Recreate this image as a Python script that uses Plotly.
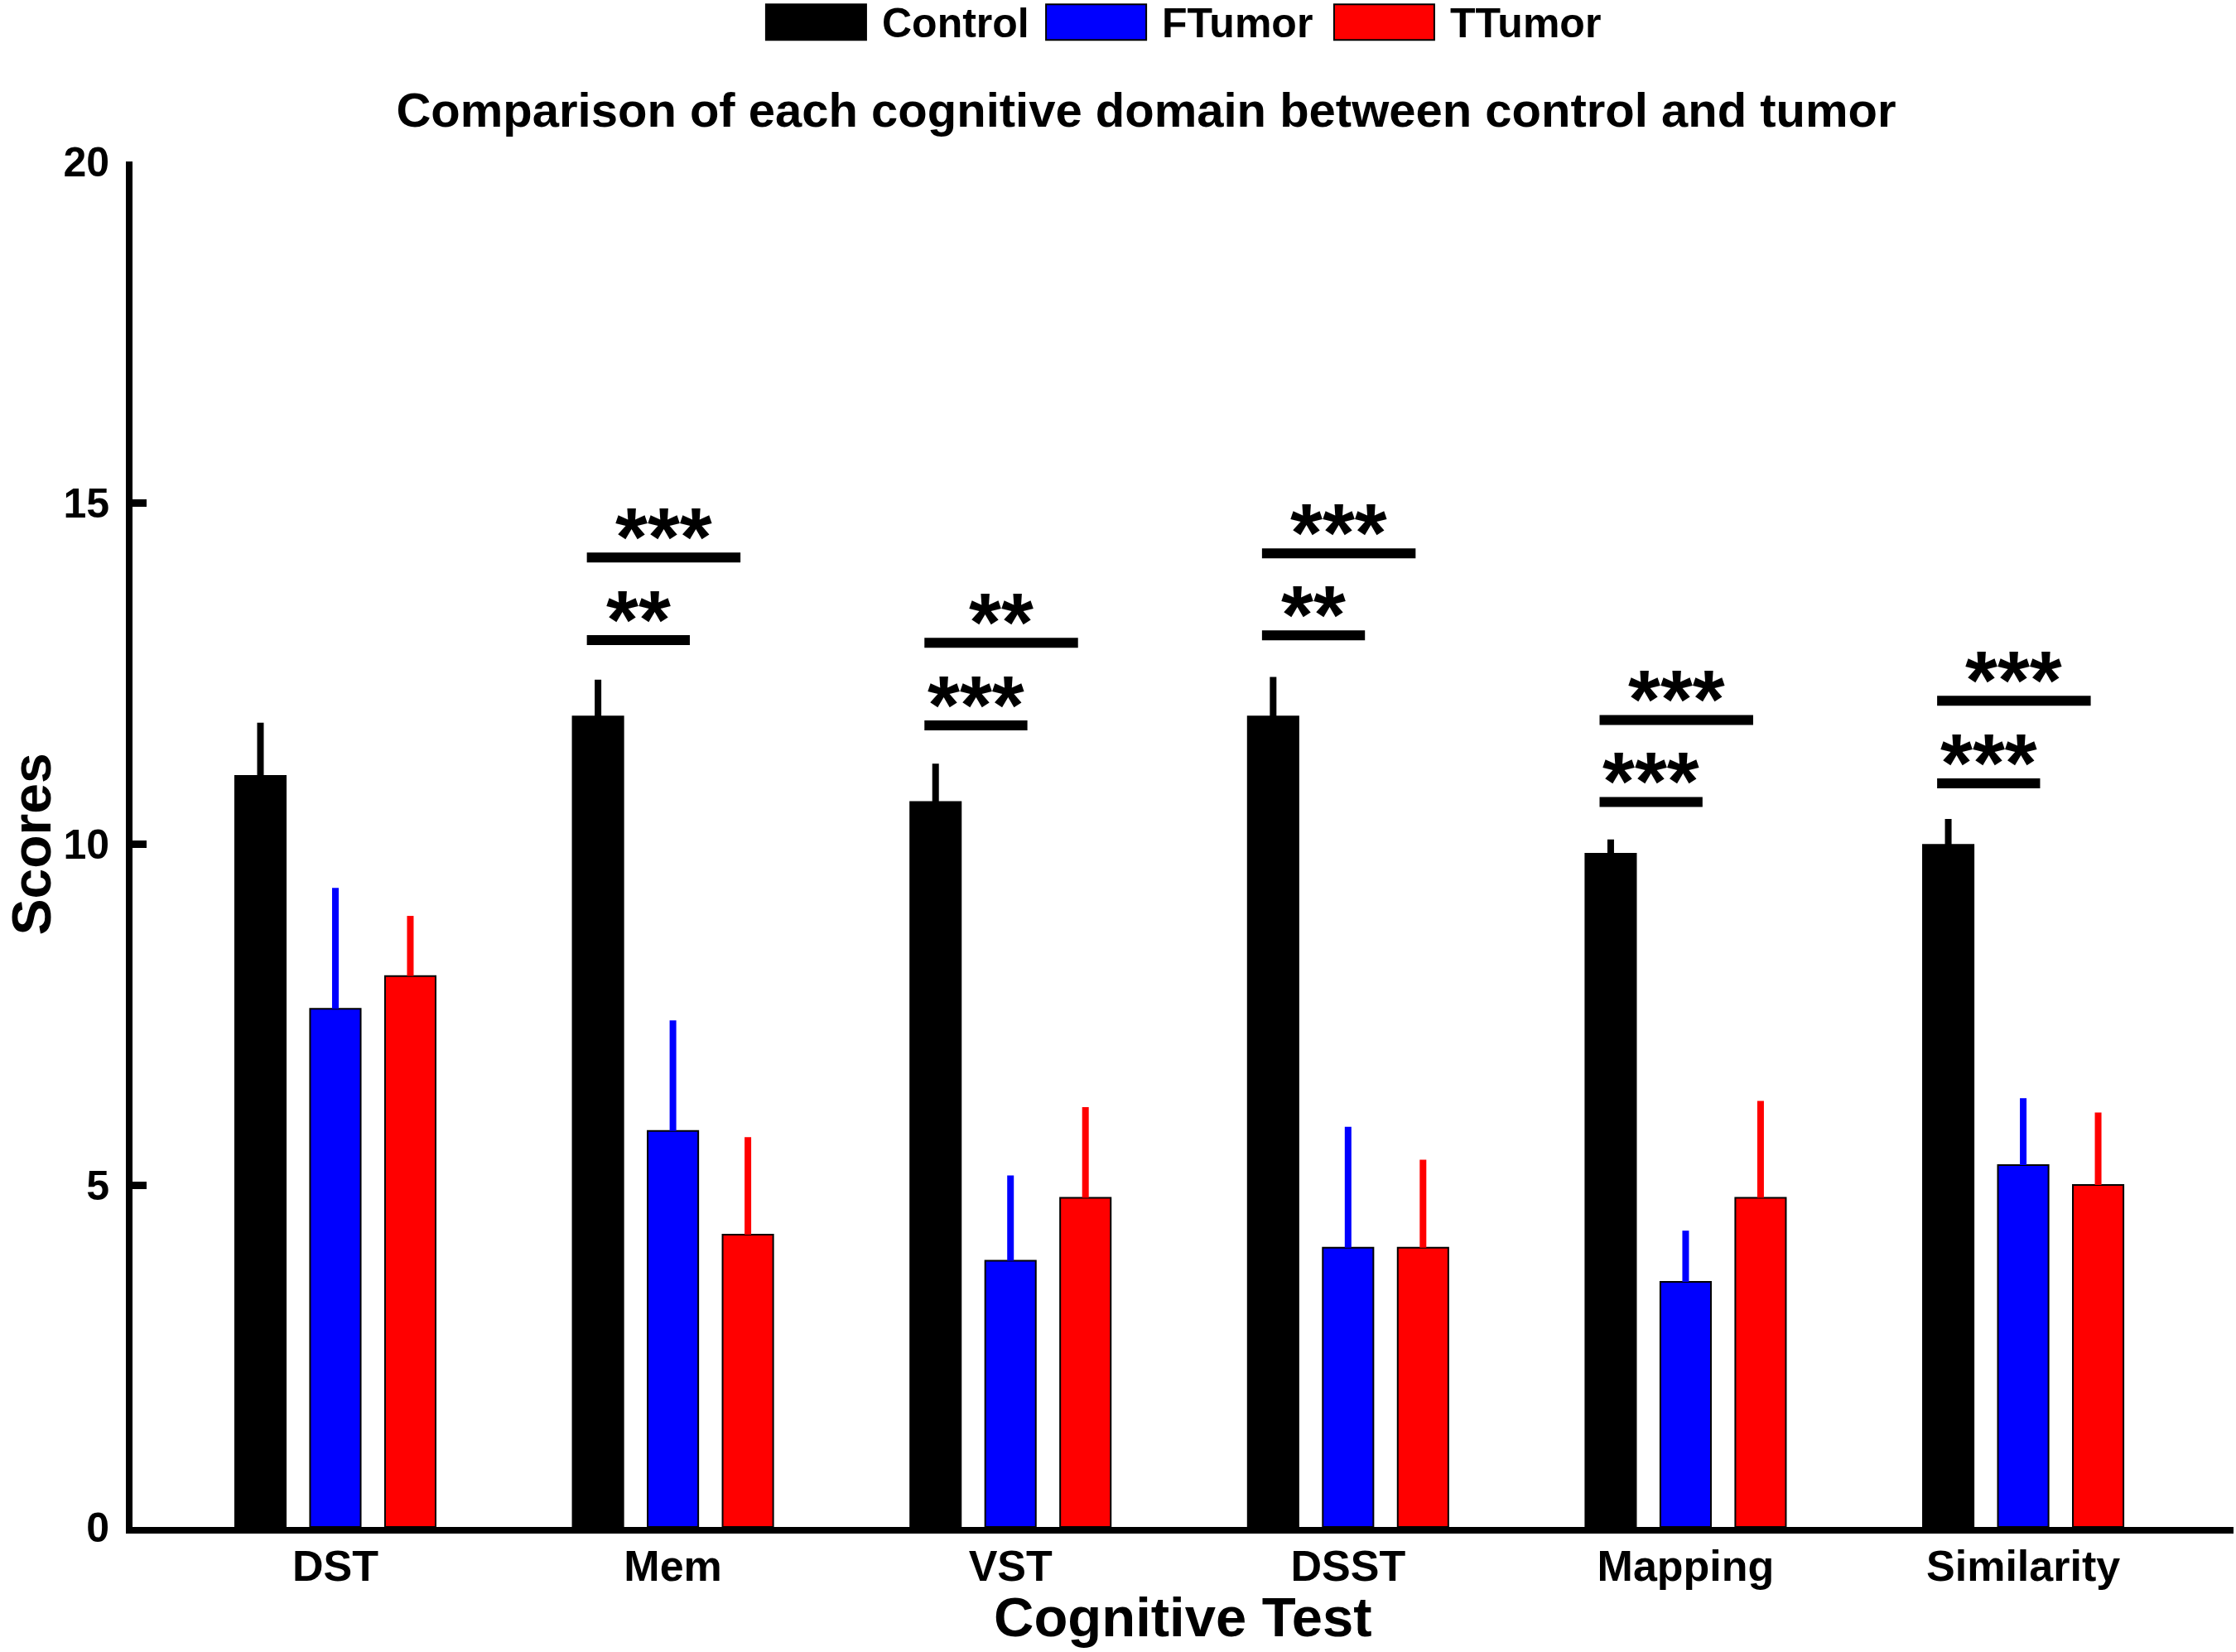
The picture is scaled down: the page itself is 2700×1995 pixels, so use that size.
import plotly.graph_objects as go

# data
tests = ["DST", "Mem", "VST", "DSST", "Mapping", "Similarity"]
groups = ["Control", "FTumor", "TTumor"]
control_mean = [11.00, 11.87, 10.62, 11.87, 9.86, 9.99]
control_err = [0.78, 0.54, 0.56, 0.58, 0.21, 0.38]
ftumor_mean = [7.59, 5.80, 3.90, 4.09, 3.59, 5.30]
ftumor_err = [1.77, 1.62, 1.25, 1.77, 0.75, 0.98]
ttumor_mean = [8.07, 4.28, 4.82, 4.09, 4.82, 5.01]
ttumor_err = [0.88, 1.43, 1.33, 1.29, 1.42, 1.06]

# significance brackets: short = control vs FTumor, long = control vs TTumor
sig_short_label = ["", "**", "***", "**", "***", "***"]
sig_short_y = [None, 12.99, 11.74, 13.06, 10.62, 10.89]
sig_long_label = ["", "***", "**", "***", "***", "***"]
sig_long_y = [None, 14.20, 12.95, 14.26, 11.82, 12.10]

colors = {"Control": "#000000", "FTumor": "#0000ff", "TTumor": "#ff0000"}
FONT = "Liberation Sans, Arial, sans-serif"

means = [control_mean, ftumor_mean, ttumor_mean]
errs = [control_err, ftumor_err, ttumor_err]

fig = go.Figure()
for name, m, e in zip(groups, means, errs):
    fig.add_trace(go.Bar(
        x=tests, y=m, name=name,
        marker=dict(color=colors[name], line=dict(color="black", width=2)),
        error_y=dict(type="data", array=e, symmetric=False, arrayminus=[0] * len(e),
                     color=colors[name], thickness=8, width=0),
        showlegend=False,
    ))

# significance lines and stars
x_start, x_short_end, x_long_end = -0.255, 0.05, 0.2
shapes = []
annotations = []
for i, t in enumerate(tests):
    for lab, yv, x_end in [(sig_short_label[i], sig_short_y[i], x_short_end),
                           (sig_long_label[i], sig_long_y[i], x_long_end)]:
        if not lab:
            continue
        shapes.append(dict(type="line", xref="x", yref="y",
                           x0=i + x_start, x1=i + x_end, y0=yv, y1=yv,
                           line=dict(color="black", width=12)))
        annotations.append(dict(x=i + (x_start + x_end) / 2, y=yv, xref="x", yref="y",
                                text=lab, showarrow=False, yanchor="middle", yshift=25,
                                font=dict(family=FONT, size=100, color="black", weight="bold")))

# hand-made legend at the top
legend_x0 = [0.3015, 0.4348, 0.5719]
sw_w = 0.0477
for name, lx in zip(groups, legend_x0):
    shapes.append(dict(type="rect", xref="paper", yref="paper",
                       x0=lx, x1=lx + sw_w, y0=1.089, y1=1.115,
                       fillcolor=colors[name], line=dict(color="black", width=2)))
    annotations.append(dict(x=lx + sw_w + 0.0067, y=1.101, xref="paper", yref="paper",
                            text=name, showarrow=False, xanchor="left", yanchor="middle",
                            font=dict(family=FONT, size=50, color="black", weight="bold")))

# axis titles as annotations so they can sit right at the edges
annotations.append(dict(x=-0.0481, y=0.5, xref="paper", yref="paper", text="Scores",
                        textangle=-90, showarrow=False, xanchor="center", yanchor="middle",
                        font=dict(family=FONT, size=66, color="black", weight="bold")))
annotations.append(dict(x=0.5, y=-0.066, xref="paper", yref="paper", text="Cognitive Test",
                        showarrow=False, xanchor="center", yanchor="middle",
                        font=dict(family=FONT, size=67, color="black", weight="bold")))

W, H = 2700, 1995
fig.update_layout(
    width=W, height=H,
    margin=dict(l=160, r=3, t=195, b=151),
    plot_bgcolor="white", paper_bgcolor="white",
    barmode="group", bargap=0.334, bargroupgap=0.325,
    title=dict(text="Comparison of each cognitive domain between control and tumor",
               x=1384 / W, xref="container", xanchor="center",
               y=1 - 133 / H, yanchor="middle",
               font=dict(family=FONT, size=58, color="black", weight="bold")),
    shapes=shapes, annotations=annotations,
    font=dict(family=FONT, color="black"),
)
fig.update_xaxes(
    type="category", range=[-0.601, 5.623], automargin=False,
    showline=True, linecolor="black", linewidth=8,
    ticks="", showgrid=False, ticklabelstandoff=-5,
    tickfont=dict(family=FONT, size=52, color="black", weight="bold"),
)
fig.update_yaxes(
    range=[0, 20], tickvals=[0, 5, 10, 15, 20], automargin=False,
    showline=True, linecolor="black", linewidth=8,
    ticks="inside", ticklen=17, tickwidth=9, tickcolor="black",
    showgrid=False, zeroline=False, ticklabelstandoff=10,
    tickfont=dict(family=FONT, size=50, color="black", weight="bold"),
)

# drop the page's default body margin so the figure fills the window
fig.write_html("out.html", config={"displayModeBar": False},
               post_script="document.body.style.margin='0px';")
